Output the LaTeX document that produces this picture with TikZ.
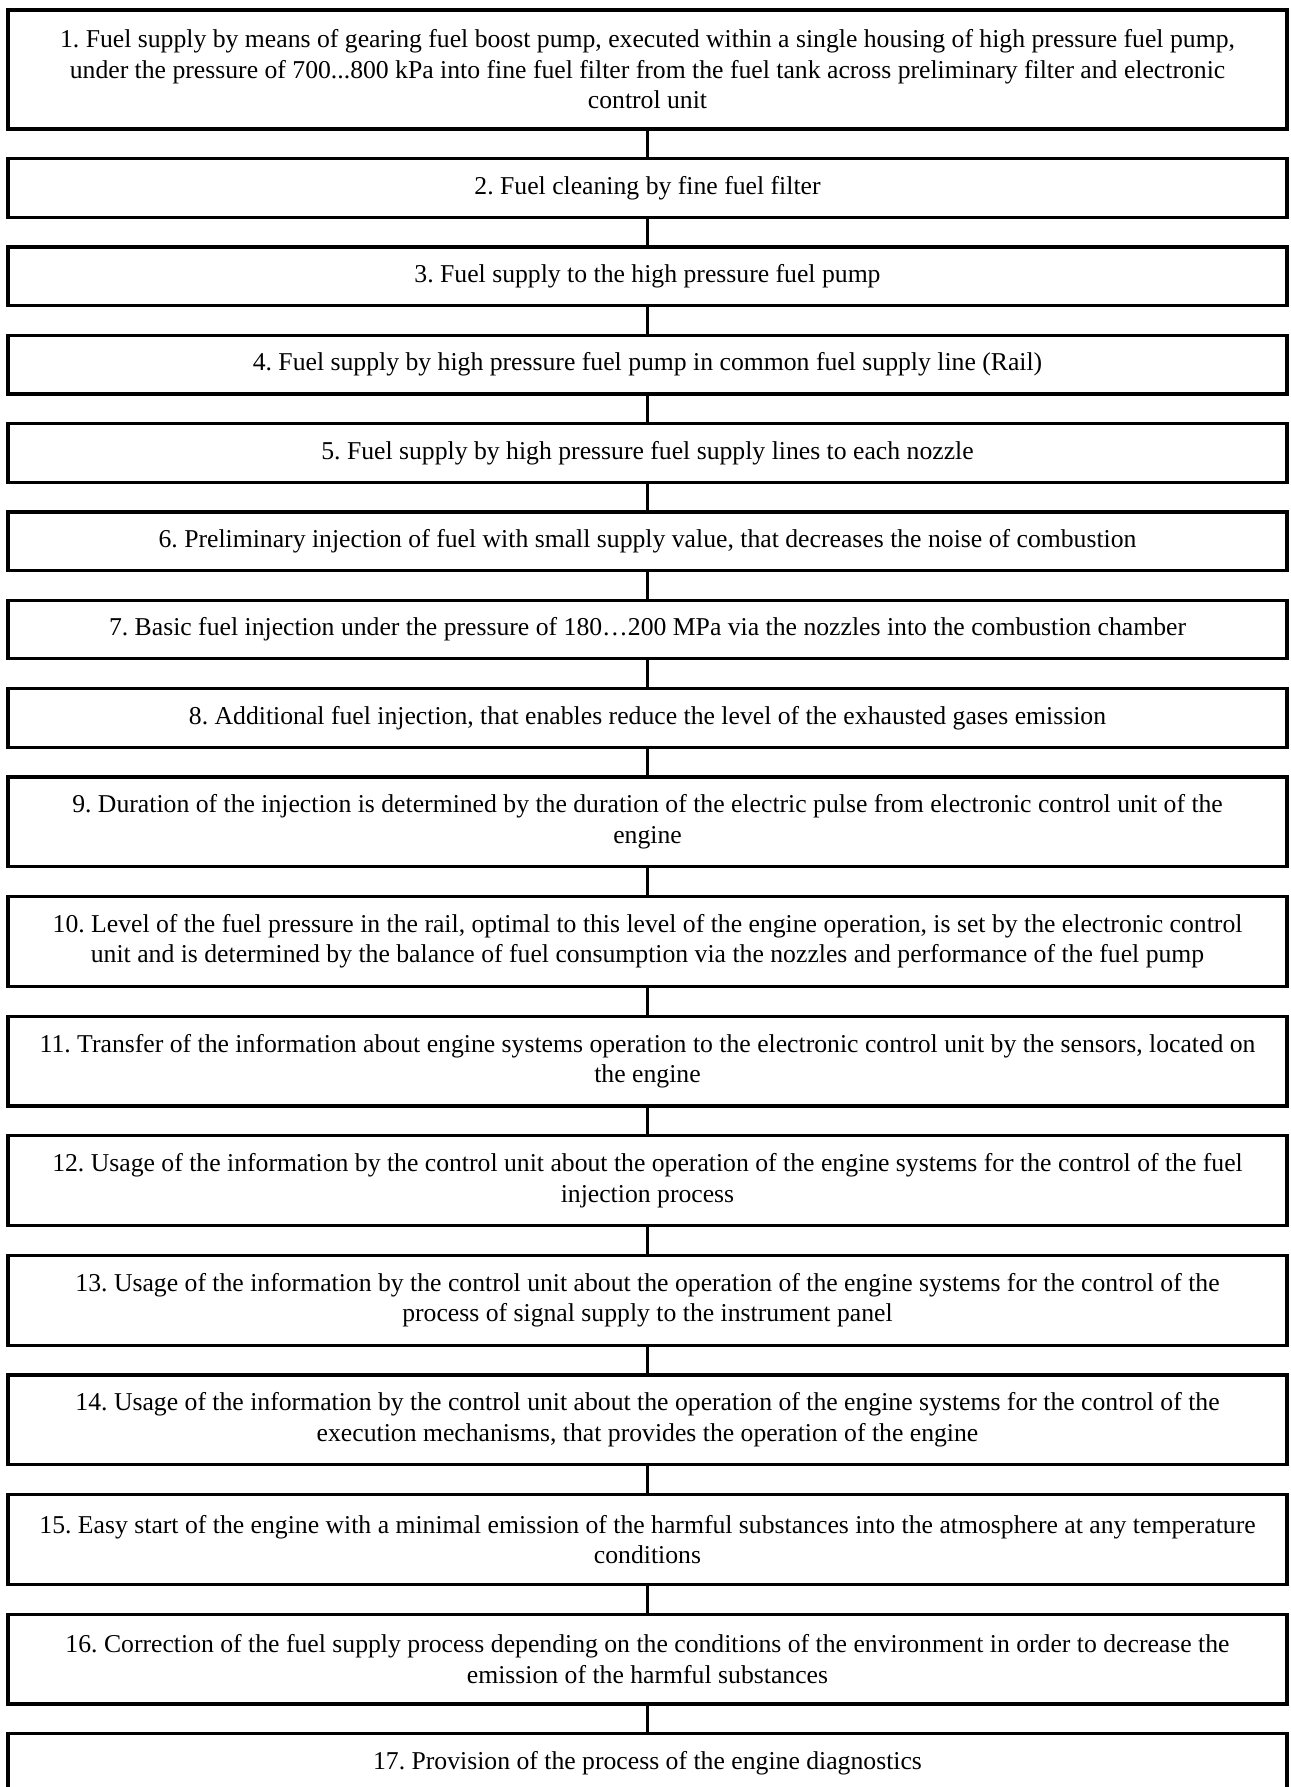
\documentclass[tikz,border=0pt]{standalone}
\usepackage{fontspec}
\setmainfont{Liberation Serif}
\usepackage{tikz}
\usetikzlibrary{positioning}
\frenchspacing

\begin{document}
\begin{tikzpicture}[
    node distance=14.9pt,
    stage/.style={
      rectangle, draw=black, line width=1.6pt, outer sep=0pt,
      minimum width=639.5pt, minimum height=29.25pt,
      align=center, font=\fontsize{12.85}{15.25}\selectfont
    },
    twoline/.style={stage, minimum height=44.9pt},
    link/.style={line width=1.6pt}
  ]
    \useasboundingbox (0,0) rectangle (645pt,-893.5pt);

    \node[stage, minimum height=59.5pt, anchor=north] (s1) at (323.75pt,-5pt)
      {1. Fuel supply by means of gearing fuel boost pump, executed within a single housing of high pressure fuel pump,\\
       under the pressure of 700...800 kPa into fine fuel filter from the fuel tank across preliminary filter and electronic\\
       control unit};
    \node[stage]   (s2)  [below=of s1]  {2. Fuel cleaning by fine fuel filter};
    \node[stage]   (s3)  [below=of s2]  {3. Fuel supply to the high pressure fuel pump};
    \node[stage]   (s4)  [below=of s3]  {4. Fuel supply by high pressure fuel pump in common fuel supply line (Rail)};
    \node[stage]   (s5)  [below=of s4]  {5. Fuel supply by high pressure fuel supply lines to each nozzle};
    \node[stage]   (s6)  [below=of s5]  {6. Preliminary injection of fuel with small supply value, that decreases the noise of combustion};
    \node[stage]   (s7)  [below=of s6]  {7. Basic fuel injection under the pressure of 180…200 MPa via the nozzles into the combustion chamber};
    \node[stage]   (s8)  [below=of s7]  {8. Additional fuel injection, that enables reduce the level of the exhausted gases emission};
    \node[twoline] (s9)  [below=of s8]
      {9. Duration of the injection is determined by the duration of the electric pulse from electronic control unit of the\\ engine};
    \node[twoline] (s10) [below=of s9]
      {10. Level of the fuel pressure in the rail, optimal to this level of the engine operation, is set by the electronic control\\
       unit and is determined by the balance of fuel consumption via the nozzles and performance of the fuel pump};
    \node[twoline] (s11) [below=of s10]
      {11. Transfer of the information about engine systems operation to the electronic control unit by the sensors, located on\\ the engine};
    \node[twoline] (s12) [below=of s11]
      {12. Usage of the information by the control unit about the operation of the engine systems for the control of the fuel\\ injection process};
    \node[twoline] (s13) [below=of s12]
      {13. Usage of the information by the control unit about the operation of the engine systems for the control of the\\
       process of signal supply to the instrument panel};
    \node[twoline] (s14) [below=of s13]
      {14. Usage of the information by the control unit about the operation of the engine systems for the control of the\\
       execution mechanisms, that provides the operation of the engine};
    \node[twoline] (s15) [below=of s14]
      {15. Easy start of the engine with a minimal emission of the harmful substances into the atmosphere at any temperature\\ conditions};
    \node[twoline] (s16) [below=of s15]
      {16. Correction of the fuel supply process depending on the conditions of the environment in order to decrease the\\
       emission of the harmful substances};
    \node[stage]   (s17) [below=of s16] {17. Provision of the process of the engine diagnostics};

    \foreach \a/\b in {s1/s2, s2/s3, s3/s4, s4/s5, s5/s6, s6/s7, s7/s8, s8/s9,
                       s9/s10, s10/s11, s11/s12, s12/s13, s13/s14, s14/s15,
                       s15/s16, s16/s17}
      \draw[link] (\a.south) -- (\b.north);
  \end{tikzpicture}
\end{document}
